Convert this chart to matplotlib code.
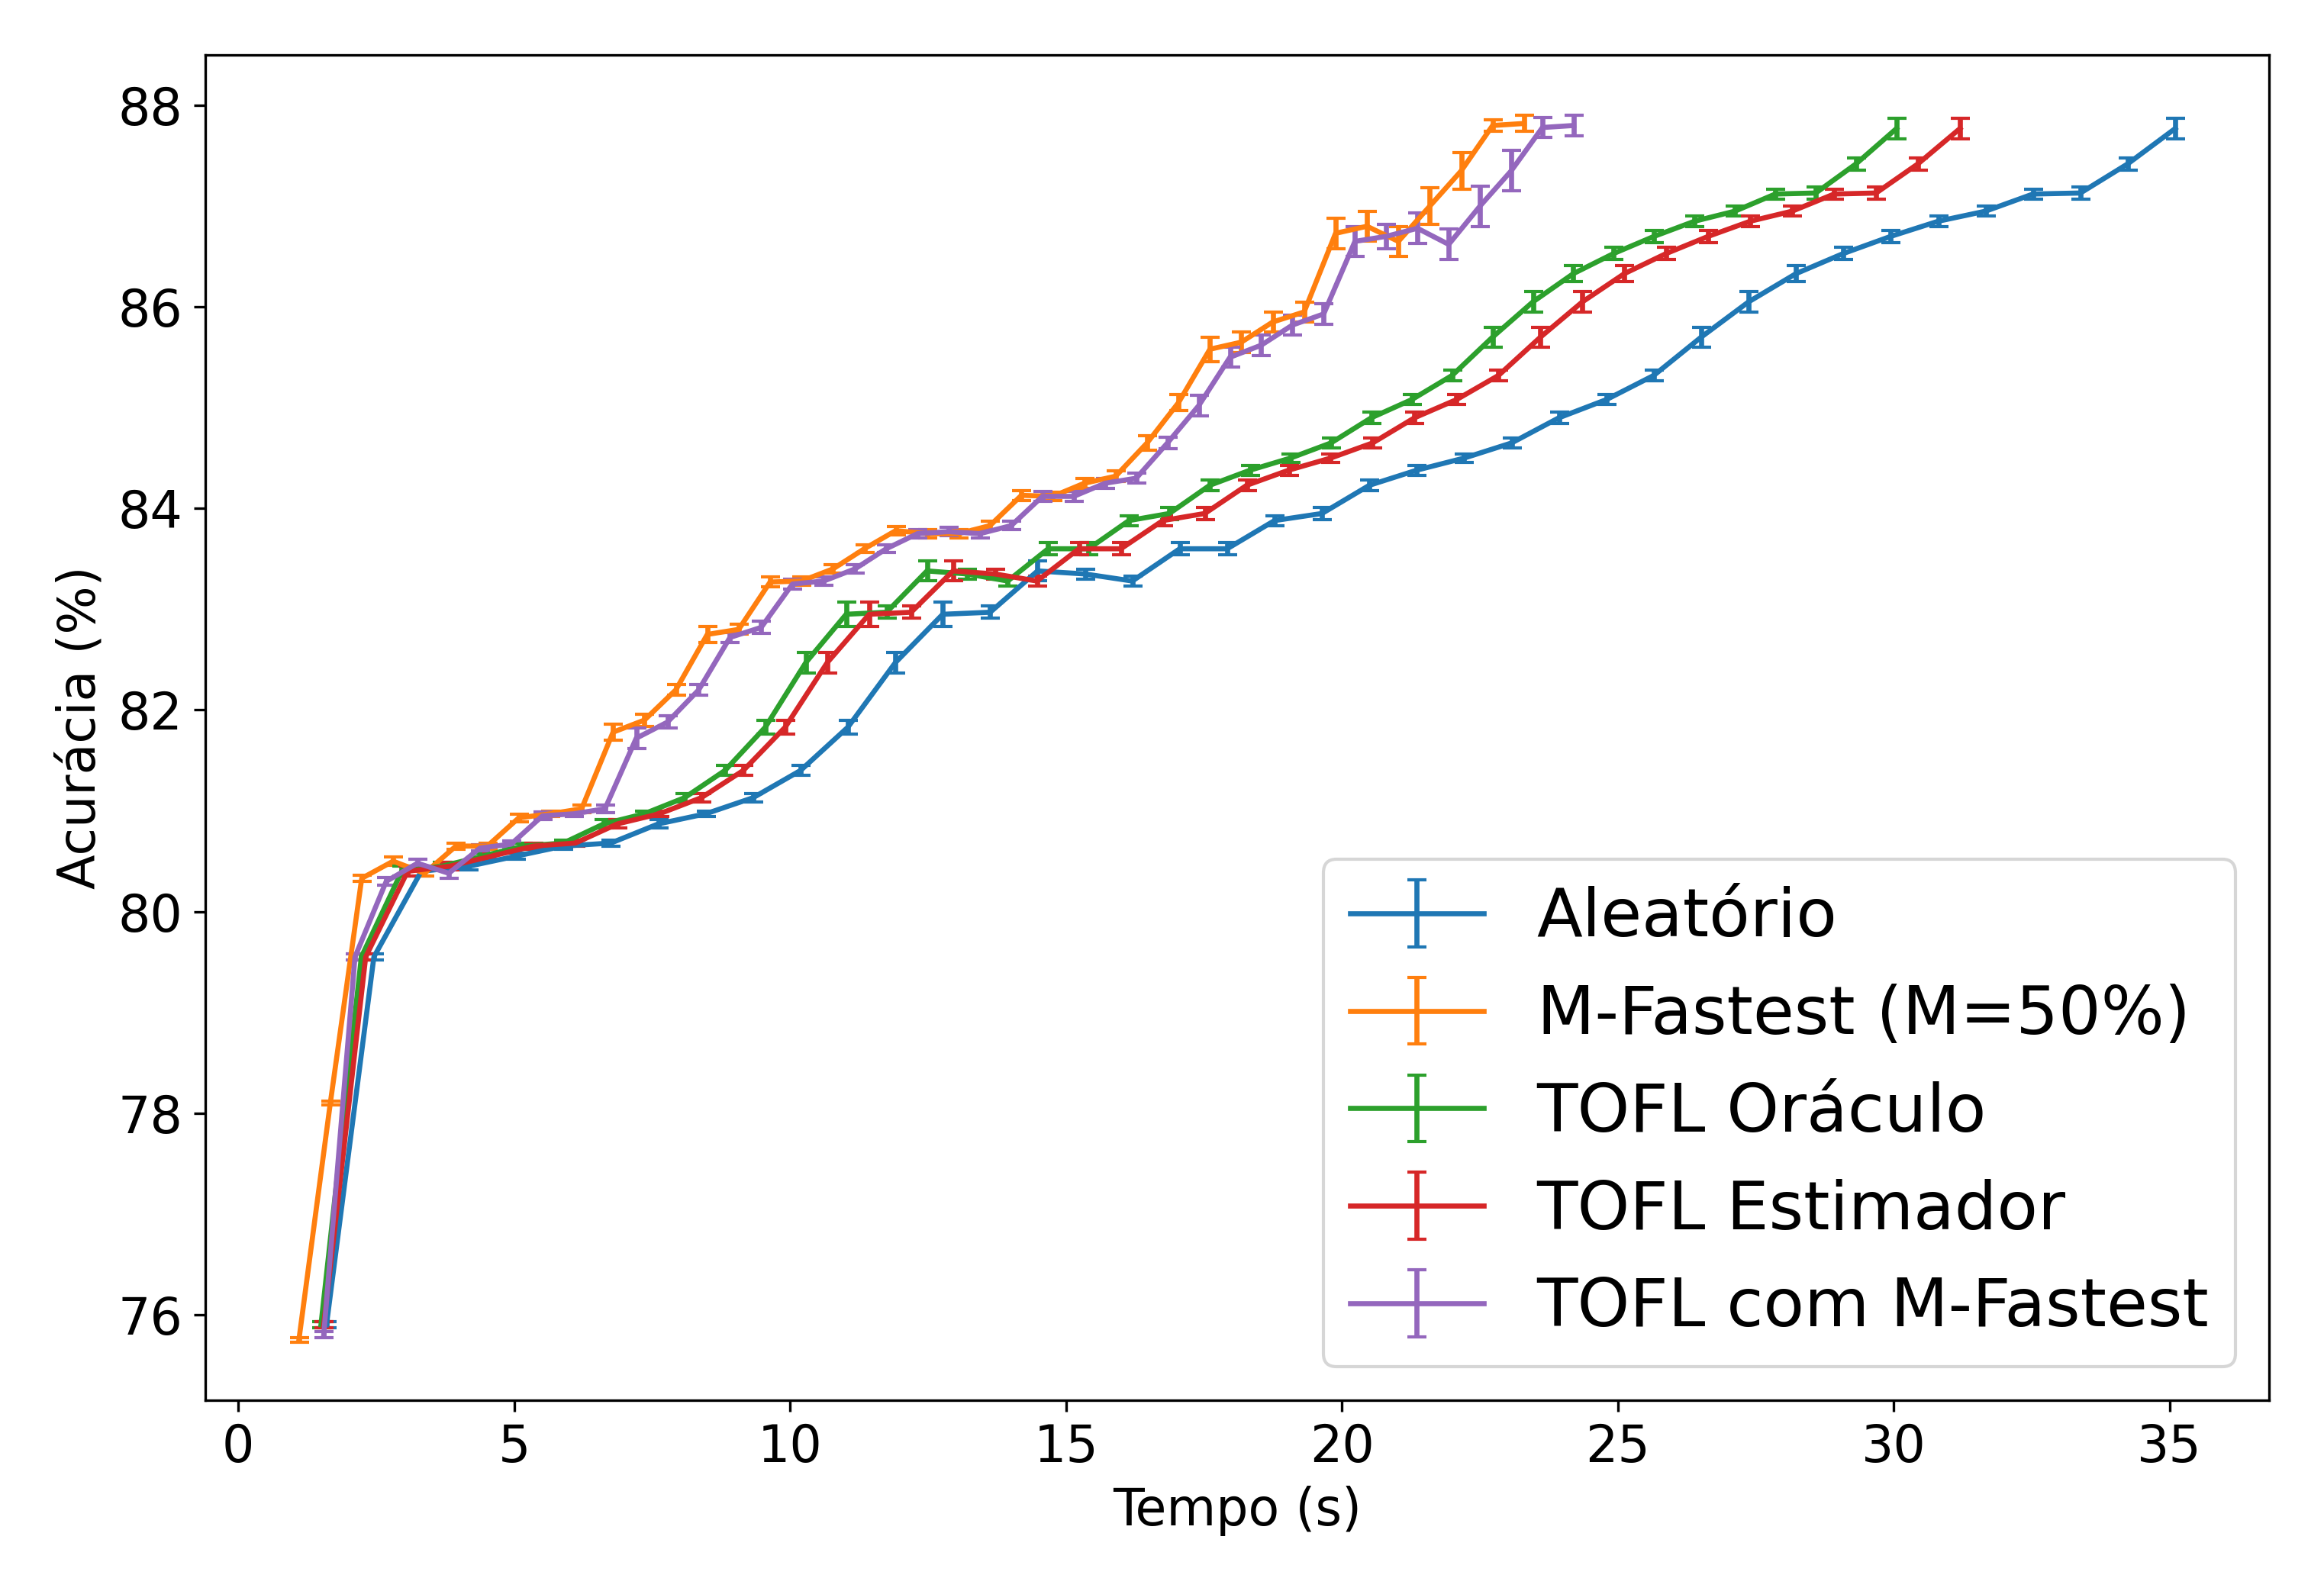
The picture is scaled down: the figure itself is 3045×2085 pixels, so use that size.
import matplotlib.pyplot as plt
import numpy as np

# Acurácia (mesma trajetória para Aleatório, Oráculo e Estimador)
acc_base = [75.9, 79.55, 80.4, 80.45, 80.55, 80.65, 80.68, 80.87, 80.97, 81.13,
            81.4, 81.83, 82.47, 82.95, 82.97, 83.38, 83.35, 83.28, 83.6, 83.6,
            83.88, 83.95, 84.23, 84.38, 84.5, 84.65, 84.9, 85.08, 85.32, 85.7,
            86.05, 86.33, 86.53, 86.7, 86.85, 86.95, 87.12, 87.13, 87.42, 87.77]
err_base = [0.03, 0.03, 0.05, 0.04, 0.03, 0.03, 0.03, 0.04, 0.03, 0.04,
            0.05, 0.07, 0.1, 0.12, 0.06, 0.1, 0.05, 0.05, 0.06, 0.06,
            0.05, 0.06, 0.05, 0.05, 0.04, 0.05, 0.06, 0.05, 0.05, 0.1,
            0.1, 0.08, 0.06, 0.06, 0.05, 0.05, 0.05, 0.06, 0.06, 0.1]

acc_fast = [75.75, 78.1, 80.33, 80.5, 80.38, 80.65, 80.65, 80.93, 80.97, 81.02,
            81.78, 81.9, 82.2, 82.75, 82.8, 83.27, 83.28, 83.4, 83.6, 83.78,
            83.75, 83.75, 83.83, 84.13, 84.12, 84.25, 84.32, 84.65, 85.05, 85.58,
            85.65, 85.85, 85.95, 86.73, 86.8, 86.65, 87.0, 87.35, 87.8, 87.82]
err_fast = [0.02, 0.02, 0.03, 0.04, 0.03, 0.03, 0.03, 0.04, 0.03, 0.04,
            0.08, 0.06, 0.05, 0.08, 0.05, 0.05, 0.04, 0.04, 0.04, 0.04,
            0.04, 0.04, 0.04, 0.05, 0.04, 0.05, 0.05, 0.07, 0.08, 0.12,
            0.1, 0.1, 0.1, 0.15, 0.15, 0.15, 0.18, 0.18, 0.06, 0.08]

acc_tofl_fast = [75.8, 79.55, 80.3, 80.48, 80.38, 80.63, 80.67, 80.95, 80.97, 81.02,
                 81.72, 81.88, 82.2, 82.72, 82.82, 83.25, 83.28, 83.4, 83.6, 83.75,
                 83.77, 83.75, 83.83, 84.12, 84.12, 84.25, 84.3, 84.65, 85.02, 85.5,
                 85.62, 85.82, 85.93, 86.65, 86.7, 86.78, 86.62, 87.0, 87.35, 87.78, 87.8]
err_tofl_fast = [0.03, 0.03, 0.04, 0.04, 0.05, 0.03, 0.03, 0.04, 0.03, 0.04,
                 0.1, 0.06, 0.05, 0.05, 0.06, 0.05, 0.04, 0.04, 0.04, 0.04,
                 0.04, 0.04, 0.04, 0.05, 0.05, 0.05, 0.05, 0.06, 0.1, 0.1,
                 0.1, 0.1, 0.1, 0.15, 0.12, 0.15, 0.15, 0.2, 0.2, 0.1, 0.1]

t_aleatorio = np.linspace(1.6, 35.1, len(acc_base))
t_fast = np.linspace(1.1, 23.3, len(acc_fast))
t_oraculo = np.linspace(1.5, 30.05, len(acc_base))
t_estimador = np.linspace(1.55, 31.2, len(acc_base))
t_tofl_fast = np.linspace(1.55, 24.2, len(acc_tofl_fast))

plt.rcParams['font.size'] = 16
fig, ax = plt.subplots(figsize=(10.15, 6.95), dpi=300)

kw = dict(capsize=3, linewidth=1.6)
ax.errorbar(t_aleatorio, acc_base, yerr=err_base, label="Aleatório", **kw)
ax.errorbar(t_fast, acc_fast, yerr=err_fast, label="M-Fastest (M=50%)", **kw)
ax.errorbar(t_oraculo, acc_base, yerr=err_base, label="TOFL Oráculo", **kw)
ax.errorbar(t_estimador, acc_base, yerr=err_base, label="TOFL Estimador", **kw)
ax.errorbar(t_tofl_fast, acc_tofl_fast, yerr=err_tofl_fast, label="TOFL com M-Fastest", **kw)

ax.set_xlabel("Tempo (s)")
ax.set_ylabel("Acurácia (%)")
ax.set_xlim(-0.6, 36.8)
ax.set_ylim(75.15, 88.5)
ax.set_yticks([76, 78, 80, 82, 84, 86, 88])
ax.legend(loc="lower right", fontsize=21)

plt.tight_layout()
plt.savefig("out.png")
